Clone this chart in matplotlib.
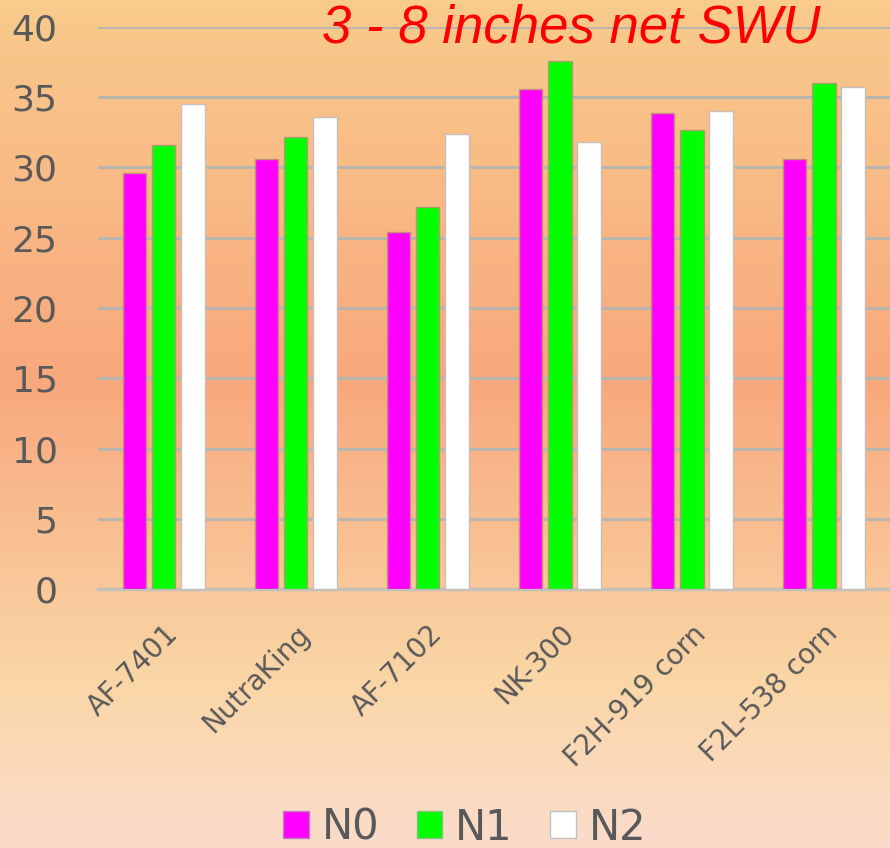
import numpy as np
import matplotlib
matplotlib.use('Agg')
import matplotlib.pyplot as plt
from matplotlib.colors import LinearSegmentedColormap

# Data
categories = ['AF-7401', 'NutraKing', 'AF-7102', 'NK-300', 'F2H-919 corn', 'F2L-538 corn']
n0 = [29.6, 30.6, 25.4, 35.6, 33.9, 30.6]
n1 = [31.6, 32.2, 27.2, 37.6, 32.7, 36.0]
n2 = [34.5, 33.6, 32.4, 31.8, 34.0, 35.7]
series_names = ['N0', 'N1', 'N2']
yticks = [0, 5, 10, 15, 20, 25, 30, 35, 40]

COLORS = ['#FF00FF', '#00FF00', '#FFFFFF']
EDGES = ['#C0907A', '#B09A70', '#C8C0B8']
TEXT_GRAY = '#595959'

fig = plt.figure(figsize=(8.9, 8.48), dpi=100)

# Gradient background
bg = fig.add_axes([0, 0, 1, 1], zorder=0)
cmap = LinearSegmentedColormap.from_list('bg', [
    (0.00, '#F9CB8C'),
    (0.45, '#F8A87D'),
    (0.80, '#FAD6A6'),
    (1.00, '#FBDCCB'),
])
grad = np.linspace(0, 1, 256).reshape(-1, 1)
bg.imshow(grad, aspect='auto', cmap=cmap, extent=[0, 1, 1, 0])
bg.set_axis_off()

ax = fig.add_axes([0.110, 0.3054, 0.890, 0.6628], zorder=1)
ax.set_facecolor('none')

x = np.arange(len(categories))
width = 0.175
offsets = [-0.22, 0.0, 0.22]
for vals, off, col, ec, name in zip([n0, n1, n2], offsets, COLORS, EDGES, series_names):
    ax.bar(x + off, vals, width=width, color=col, edgecolor=ec,
           linewidth=1.0, label=name, zorder=3)

ax.set_xlim(-0.5, len(categories) - 0.5)
ax.set_ylim(0, 40)
ax.set_yticks(yticks)
ax.set_yticklabels([str(t) for t in yticks], fontsize=26, color=TEXT_GRAY)
ax.yaxis.grid(True, color='#B8B4AE', linewidth=2.2, zorder=1)
ax.set_axisbelow(True)
ax.tick_params(axis='y', length=0, pad=29)
ax.tick_params(axis='x', length=0, pad=22)

ax.set_xticks(x)
ax.set_xticklabels(categories, fontsize=20, color=TEXT_GRAY, rotation=45,
                   ha='right', va='top', rotation_mode='anchor')

for s in ['top', 'right', 'left']:
    ax.spines[s].set_visible(False)
ax.spines['bottom'].set_color('#C4C0BA')
ax.spines['bottom'].set_linewidth(2.5)

fig.text(0.642, 0.966, '3 - 8 inches net SWU', color='#FF0000', fontsize=38,
         fontstyle='italic', family='Liberation Sans', ha='center', va='center')

leg = fig.legend(loc='center', bbox_to_anchor=(0.522, 0.024), ncol=3,
                 frameon=False, fontsize=30, handlelength=0.62, handleheight=0.62,
                 handletextpad=0.3, columnspacing=0.9)
for t in leg.get_texts():
    t.set_color(TEXT_GRAY)
for h, ec in zip(leg.legend_handles, ['#C080C0', '#80C080', '#C0C0C0']):
    h.set_edgecolor(ec)

plt.savefig('out.png', dpi=100)
